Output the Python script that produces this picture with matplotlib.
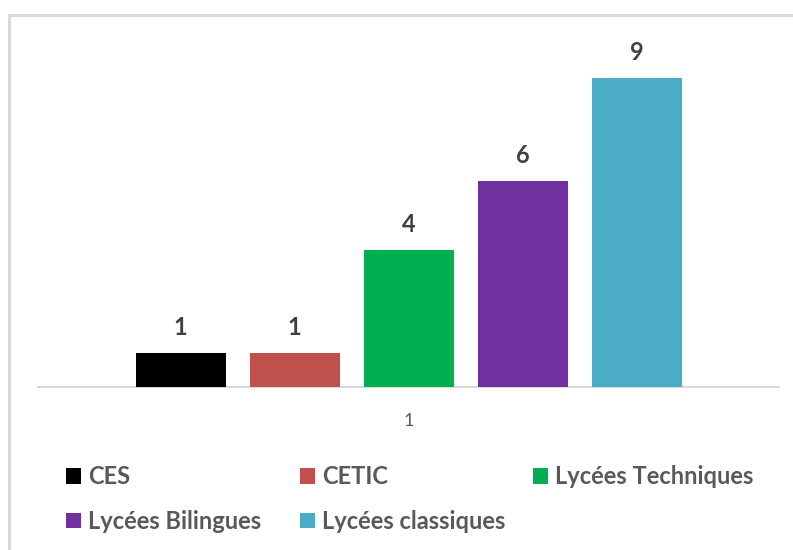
import matplotlib.pyplot as plt
from matplotlib.patches import Rectangle

# --- Data ---
category = ["1"]
series = ["CES", "CETIC", "Lycées Techniques", "Lycées Bilingues", "Lycées classiques"]
values = [1, 1, 4, 6, 9]
colors = ["#000000", "#C0504D", "#00B050", "#7030A0", "#4BACC6"]

plt.rcParams['font.family'] = ['Lato', 'DejaVu Sans']

fig = plt.figure(figsize=(7.93, 5.5), dpi=100)
W, H = 793, 550

# chart frame (light grey, cropped on the right/bottom)
fig.patches.append(Rectangle((9 / W, -0.05), 1.2, 1 - 15 / H + 0.05,
                             transform=fig.transFigure, fill=False,
                             edgecolor="#d9d9d9", linewidth=2.2))

ax = fig.add_axes([38 / W, 1 - 387 / H, 741 / W, 343 / H])

spacing = 1.0
width = 90 / 114
n = len(series)
offsets = [(i - (n - 1) / 2) * spacing for i in range(n)]

bars = []
for off, name, val, col in zip(offsets, series, values, colors):
    b = ax.bar(off, val, width=width, color=col, label=name, zorder=3)
    bars.append(b)
    ax.text(off, val + 0.52, str(val), ha="center", va="baseline",
            fontsize=17, fontweight="bold", color="#404040")

ax.set_xlim(-3.25, 3.25)
ax.set_ylim(0, 10)
ax.set_xticks([0])
ax.set_xticklabels(category, fontsize=13, color="#595959")
ax.tick_params(axis="x", length=0, pad=19)
ax.set_yticks([])
for s in ["top", "right", "left"]:
    ax.spines[s].set_visible(False)
ax.spines["bottom"].set_color("#d9d9d9")
ax.spines["bottom"].set_linewidth(1.5)

# legend laid out row-major in three columns, like Excel
cols = [[0, 3], [1, 4], [2]]
col_x = [66, 300, 533]
for idx, x in zip(cols, col_x):
    leg = fig.legend([bars[i] for i in idx], [series[i] for i in idx],
                     loc="upper left", bbox_to_anchor=(x / W, 1 - 465 / H),
                     frameon=False, borderpad=0, borderaxespad=0,
                     handlelength=0.64, handleheight=0.64, handletextpad=0.3,
                     labelspacing=0.93,
                     prop={"family": "Lato", "weight": "bold", "size": 17})
    for t in leg.get_texts():
        t.set_color("#595959")

fig.savefig("out.png", dpi=100)
